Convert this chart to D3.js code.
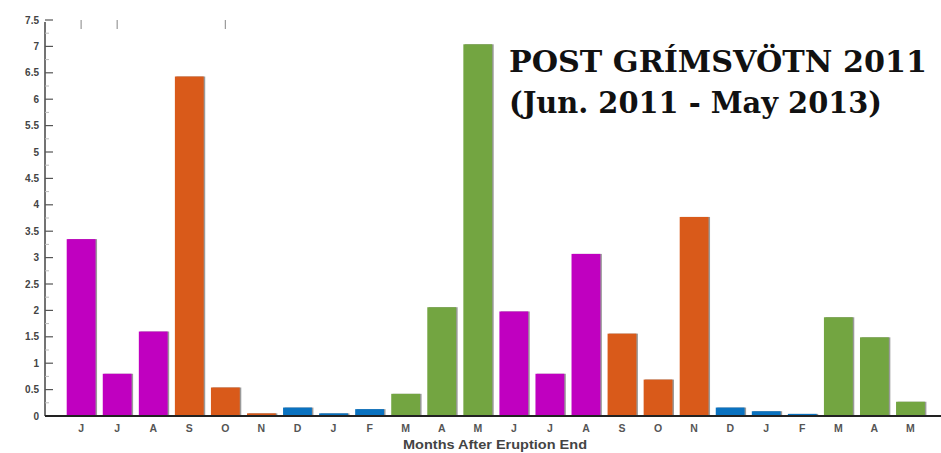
<!DOCTYPE html>
<html>
<head>
<meta charset="utf-8">
<script src="https://cdn.jsdelivr.net/npm/d3@7"></script>
<style>
  body { margin: 0; background: #fff; }
  svg { display: block; }
</style>
</head>
<body>
<svg id="chart" width="941" height="453"></svg>
<script>
// months after the end of the eruption, Jun 2011 - May 2013
const months = ['J','J','A','S','O','N','D','J','F','M','A','M',
                'J','J','A','S','O','N','D','J','F','M','A','M'];
const values = [3.35, 0.80, 1.60, 6.43, 0.54, 0.05, 0.16, 0.05, 0.13, 0.42, 2.06, 7.04,
                1.98, 0.80, 3.07, 1.56, 0.69, 3.77, 0.16, 0.09, 0.04, 1.87, 1.49, 0.27];
// season of each month -> colour
const seasons = ['summer','summer','summer','autumn','autumn','autumn','winter','winter','winter','spring','spring','spring',
                 'summer','summer','summer','autumn','autumn','autumn','winter','winter','winter','spring','spring','spring'];
const seasonColors = { summer: '#c000c0', autumn: '#d95a1a', winter: '#0a72c0', spring: '#73a541' };
const yTicks = d3.range(0, 7.51, 0.5);
const topTicks = [0, 1, 4];
const titleLines = ['POST GRÍMSVÖTN 2011', '(Jun. 2011 - May 2013)'];
const xTitle = 'Months After Eruption End';

const svg = d3.select('#chart');
const x0 = 45, yZero = 416;

const x = d3.scaleBand()
  .domain(d3.range(months.length))
  .range([63.1, 928.5])
  .paddingInner(0.2)
  .paddingOuter(0.1);

const y = d3.scaleLinear().domain([0, 7.5]).range([yZero, 20]);

// bars (with a faint grey edge on the right like the original)
const bars = svg.append('g');
bars.selectAll('rect.shadow')
  .data(values)
  .enter()
  .append('rect')
  .attr('class', 'shadow')
  .attr('x', (d, i) => x(i) + 1.5)
  .attr('y', d => y(d))
  .attr('width', x.bandwidth())
  .attr('height', d => yZero - y(d))
  .attr('fill', '#9a9a9a');

bars.selectAll('rect.bar')
  .data(values)
  .enter()
  .append('rect')
  .attr('class', 'bar')
  .attr('x', (d, i) => x(i))
  .attr('y', d => y(d))
  .attr('width', x.bandwidth())
  .attr('height', d => yZero - y(d))
  .attr('fill', (d, i) => seasonColors[seasons[i]]);

// y axis: line, major ticks pointing inward, minor ticks
svg.append('line')
  .attr('x1', x0).attr('x2', x0)
  .attr('y1', y(7.5) + 2).attr('y2', yZero)
  .attr('stroke', '#444').attr('stroke-width', 1.5);

svg.append('g').selectAll('line')
  .data(d3.range(0.25, 7.5, 0.5))
  .enter()
  .append('line')
  .attr('x1', x0).attr('x2', x0 + 4)
  .attr('y1', d => y(d)).attr('y2', d => y(d))
  .attr('stroke', '#bbb').attr('stroke-width', 1);

svg.append('g').selectAll('line')
  .data(yTicks.slice(1))
  .enter()
  .append('line')
  .attr('x1', x0).attr('x2', x0 + 8)
  .attr('y1', d => y(d)).attr('y2', d => y(d))
  .attr('stroke', '#555').attr('stroke-width', 1.2);

svg.append('g').selectAll('text')
  .data(yTicks)
  .enter()
  .append('text')
  .attr('x', x0 - 6)
  .attr('y', d => y(d))
  .attr('dy', '0.35em')
  .attr('text-anchor', 'end')
  .attr('font-family', 'Liberation Sans, Arial, sans-serif')
  .attr('font-size', 10)
  .attr('font-weight', 'bold')
  .attr('fill', '#444')
  .text(d => d3.format('~g')(d));

// stray ticks along the top
svg.append('g').selectAll('line')
  .data(topTicks)
  .enter()
  .append('line')
  .attr('x1', i => x(i) + x.bandwidth() / 2)
  .attr('x2', i => x(i) + x.bandwidth() / 2)
  .attr('y1', 20).attr('y2', 29)
  .attr('stroke', '#999').attr('stroke-width', 1.2);

// x axis
svg.append('line')
  .attr('x1', x0).attr('x2', 941)
  .attr('y1', yZero).attr('y2', yZero)
  .attr('stroke', '#222').attr('stroke-width', 2);

svg.append('g').selectAll('text')
  .data(months)
  .enter()
  .append('text')
  .attr('x', (d, i) => x(i) + x.bandwidth() / 2)
  .attr('y', 432)
  .attr('text-anchor', 'middle')
  .attr('font-family', 'Liberation Sans, Arial, sans-serif')
  .attr('font-size', 10.5)
  .attr('font-weight', 'bold')
  .attr('fill', '#555')
  .text(d => d);

svg.append('text')
  .attr('x', 495)
  .attr('y', 449)
  .attr('text-anchor', 'middle')
  .attr('font-family', 'Liberation Sans, Arial, sans-serif')
  .attr('font-size', 12.5)
  .attr('font-weight', 'bold')
  .attr('fill', '#444')
  .attr('textLength', 184)
  .attr('lengthAdjust', 'spacingAndGlyphs')
  .text(xTitle);

// title
svg.append('text')
  .attr('x', 509).attr('y', 72)
  .attr('font-family', 'DejaVu Serif, serif')
  .attr('font-size', 30)
  .attr('font-weight', 'bold')
  .attr('fill', '#111')
  .attr('textLength', 418)
  .attr('lengthAdjust', 'spacingAndGlyphs')
  .text(titleLines[0]);

svg.append('text')
  .attr('x', 509).attr('y', 113)
  .attr('font-family', 'DejaVu Serif, serif')
  .attr('font-size', 30)
  .attr('font-weight', 'bold')
  .attr('fill', '#111')
  .attr('textLength', 373)
  .attr('lengthAdjust', 'spacingAndGlyphs')
  .text(titleLines[1]);
</script>
</body>
</html>
